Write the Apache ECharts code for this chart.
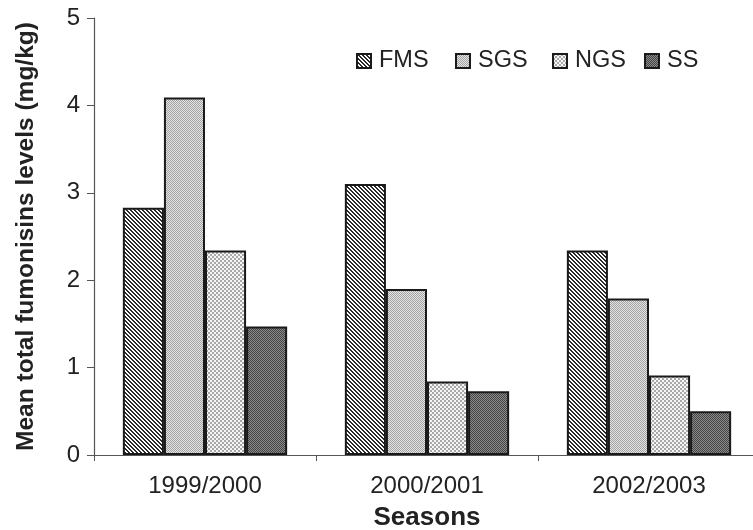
<!DOCTYPE html>
<html><head><meta charset="utf-8">
<script src="https://cdn.jsdelivr.net/npm/echarts@6/dist/echarts.min.js"></script>
<style>html,body{margin:0;padding:0;background:#fff}#c{width:753px;height:530px}</style>
</head><body><div id="c"></div>
<script>
const seasons = ['1999/2000', '2000/2001', '2002/2003'];
const seriesNames = ['FMS', 'SGS', 'NGS', 'SS'];
const fms = [2.83, 3.10, 2.34];
const sgs = [4.09, 1.90, 1.79];
const ngs = [2.34, 0.84, 0.91];
const ss  = [1.47, 0.73, 0.50];
const yTicks = [0, 1, 2, 3, 4, 5];

function tile(size, fn) {
  const c = document.createElement('canvas');
  c.width = size; c.height = size;
  const g = c.getContext('2d');
  for (let y = 0; y < size; y++) for (let x = 0; x < size; x++) {
    g.fillStyle = fn(x, y); g.fillRect(x, y, 1, 1);
  }
  return { image: c, repeat: 'repeat' };
}
const patterns = {
  FMS: tile(4, (x, y) => (((x - y) % 4 + 4) % 4 < 2) ? '#2a2a2a' : '#ffffff'),
  SGS: tile(4, (x, y) => ((x + y) % 2 === 0) ? '#a4a4a4' : '#e2e2e2'),
  NGS: tile(4, (x, y) => ((Math.floor(x / 2) + Math.floor(y / 2)) % 2 === 0) ? '#a8a8a8' : '#f6f6f6'),
  SS:  tile(4, (x, y) => ((x + y) % 2 === 0) ? '#454545' : '#8a8a8a')
};
const dataMap = { FMS: fms, SGS: sgs, NGS: ngs, SS: ss };
const legendLefts = [356, 455, 552, 644];

const chart = echarts.init(document.getElementById('c'), null, { renderer: 'canvas' });
const font = 'Liberation Sans, Arial, sans-serif';
chart.setOption({
  animation: false,
  backgroundColor: '#fff',
  textStyle: { fontFamily: font },
  grid: { left: 94, top: 18, width: 666, height: 437, containLabel: false, outerBoundsMode: 'none' },
  legend: seriesNames.map((n, i) => ({
    data: [n], left: legendLefts[i], top: 49, padding: 0, itemWidth: 14, itemHeight: 14,
    icon: 'rect',
    itemStyle: { borderColor: '#1a1a1a', borderWidth: 2 },
    textStyle: { fontSize: 23.5, color: '#222', fontFamily: font, padding: [0, 0, 0, 3] }
  })),
  xAxis: {
    type: 'category', data: seasons,
    name: 'Seasons', nameLocation: 'middle', nameGap: 50,
    nameTextStyle: { fontSize: 26, fontWeight: 'bold', color: '#222', fontFamily: font },
    axisLine: { lineStyle: { color: '#555', width: 1.2 } },
    axisTick: { show: true, length: 6, lineStyle: { color: '#555' } },
    axisLabel: { fontSize: 24, color: '#222', margin: 19, fontFamily: font }
  },
  yAxis: {
    type: 'value', min: 0, max: 5, interval: 1,
    name: 'Mean total fumonisins levels (mg/kg)', nameLocation: 'middle', nameGap: 55,
    nameTextStyle: { fontSize: 24.5, fontWeight: 'bold', color: '#222', fontFamily: font },
    axisLine: { show: true, lineStyle: { color: '#555', width: 1.2 } },
    axisTick: { show: true, length: 7, lineStyle: { color: '#555' } },
    axisLabel: { fontSize: 24, color: '#222', margin: 14, fontFamily: font,
      formatter: v => yTicks.includes(v) ? String(v) : '' },
    splitLine: { show: false }
  },
  series: seriesNames.map(n => ({
    name: n, type: 'bar', data: dataMap[n],
    barGap: '0%', barCategoryGap: '26%',
    itemStyle: { color: patterns[n], borderColor: '#1a1a1a', borderWidth: 2 }
  }))
});
</script></body></html>
